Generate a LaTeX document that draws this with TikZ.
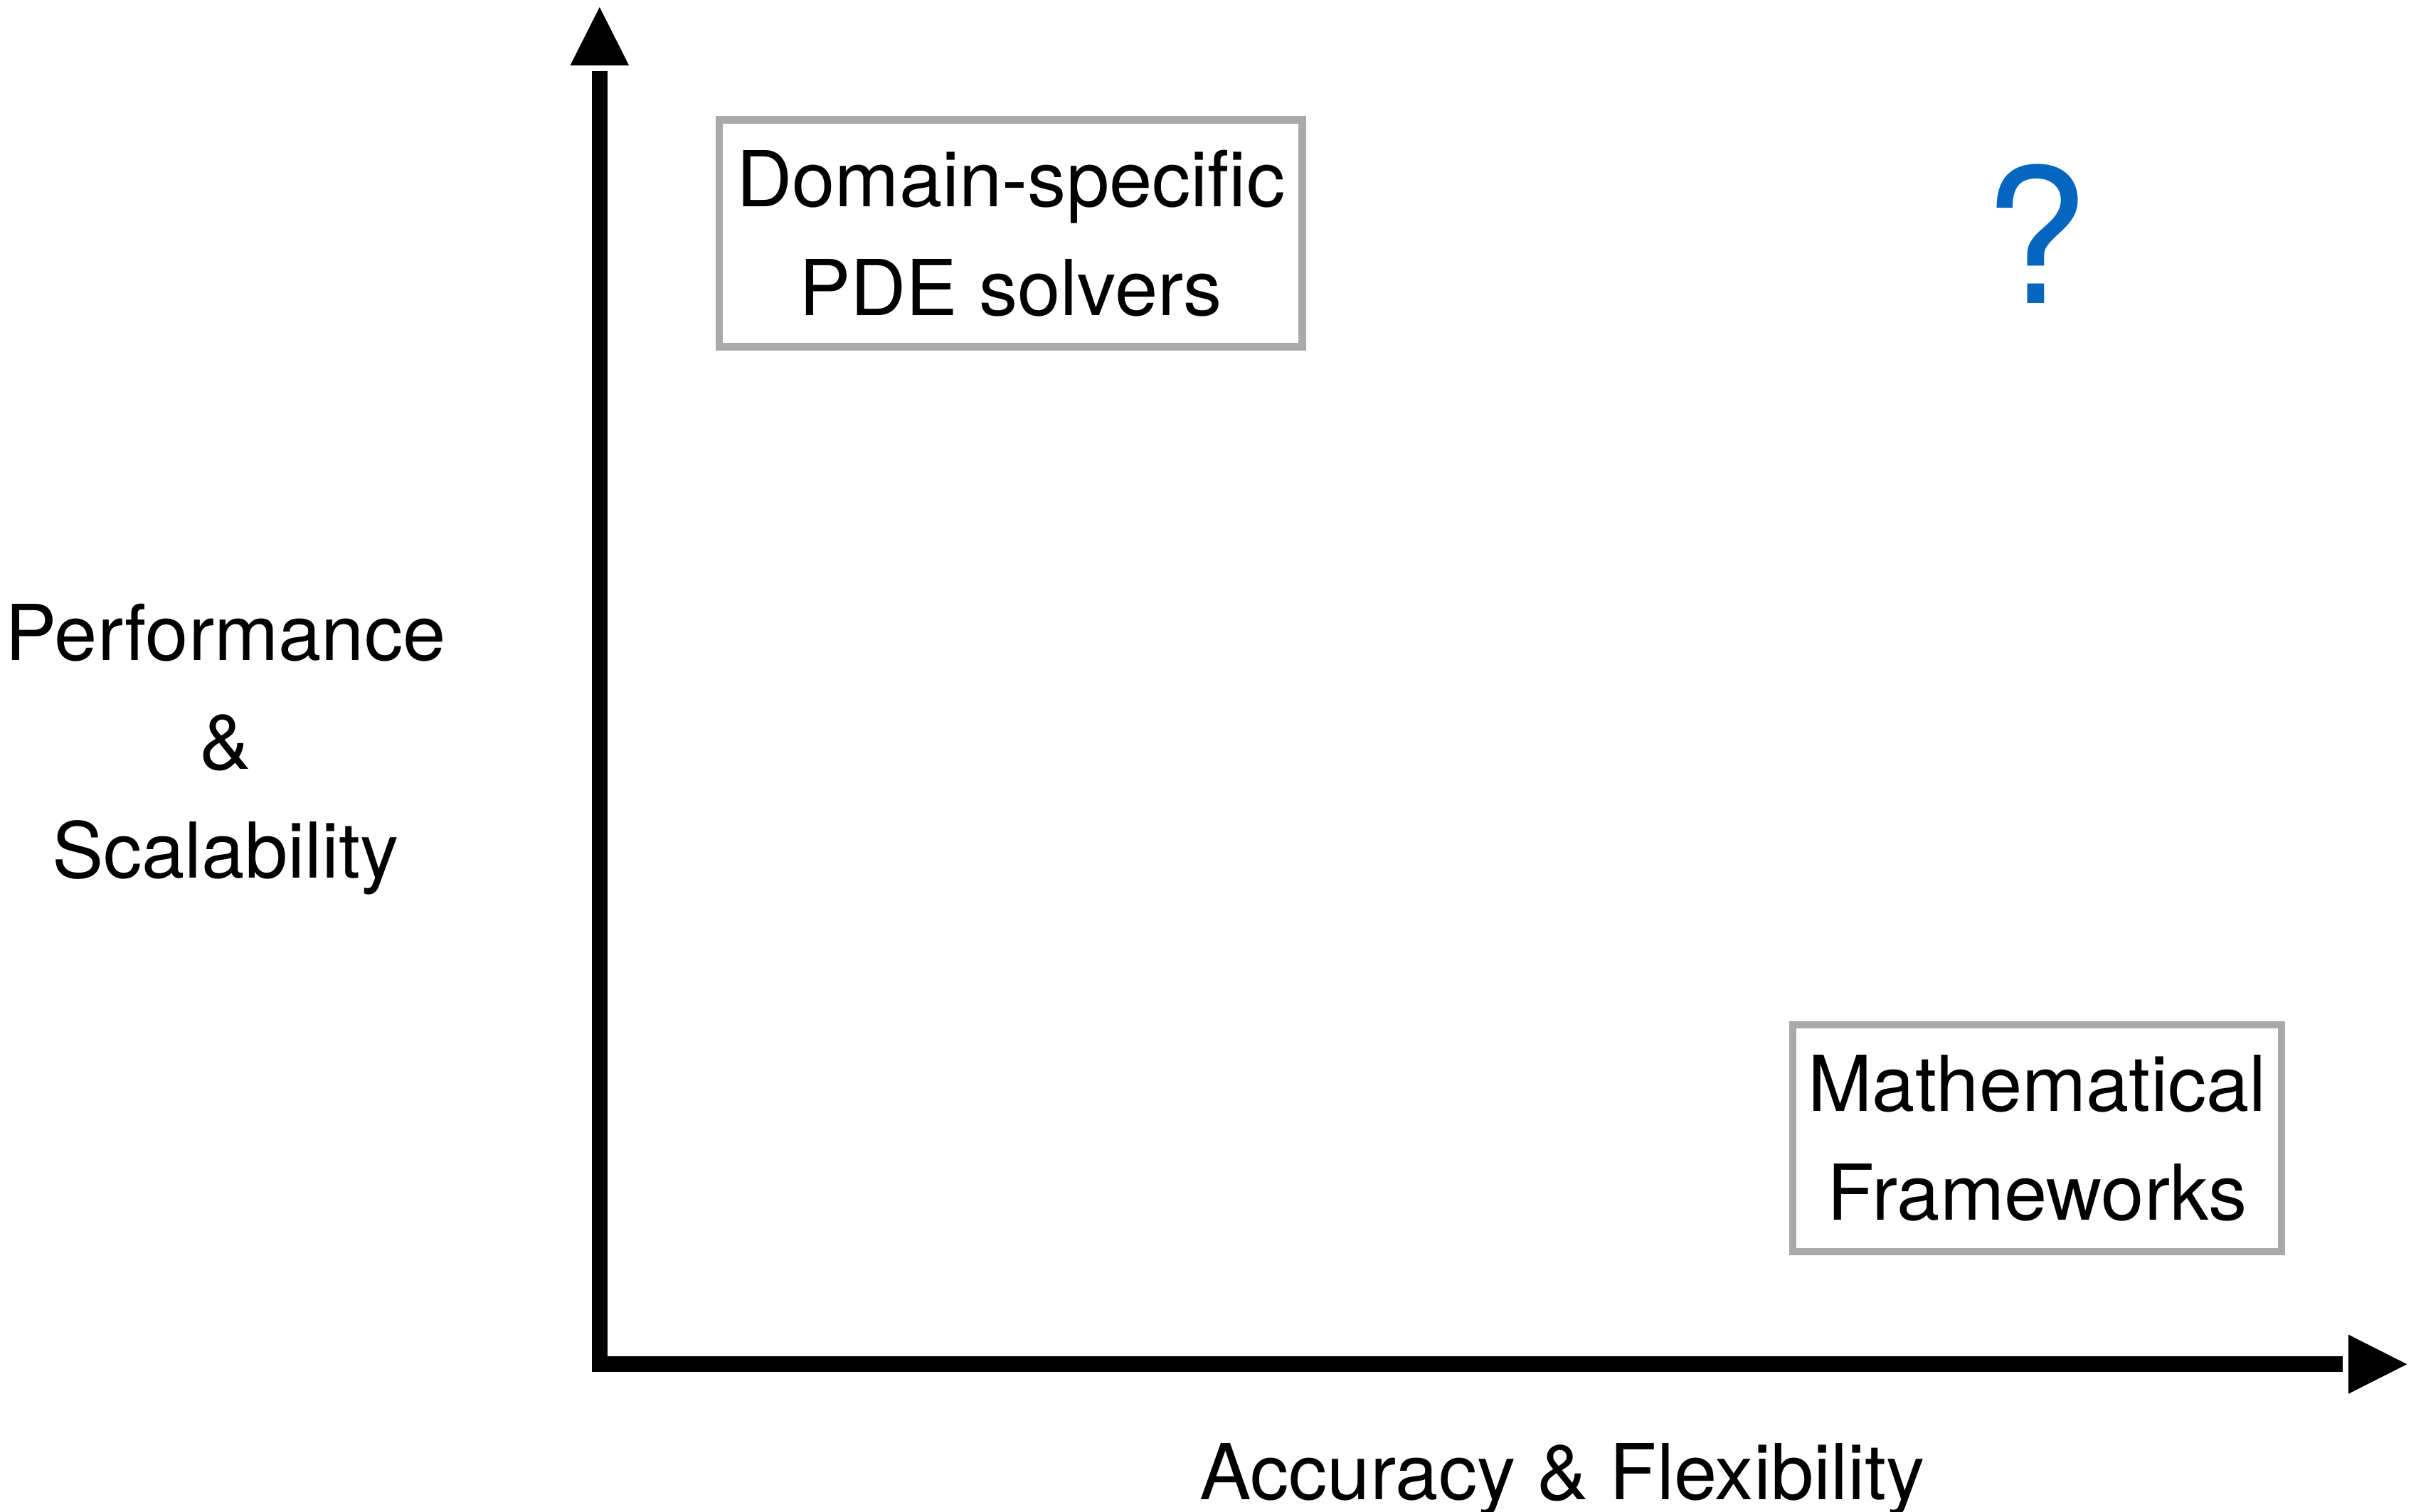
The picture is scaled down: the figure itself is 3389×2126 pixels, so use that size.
\documentclass[tikz,border=0pt]{standalone}
\usepackage{fontspec}
\setmainfont{TeX Gyre Heros}
\definecolor{boxgray}{RGB}{167,170,169}
\definecolor{qblue}{RGB}{5,102,191}
\begin{document}
\begin{tikzpicture}[x=0.25pt,y=-0.25pt,
  lbl/.style={font=\fontsize{27.1pt}{38.25pt}\selectfont, inner sep=0pt, align=center},
  framebox/.style={lbl, draw=boxgray, line width=2.625pt, minimum height=79.75pt},
  axisline/.style={line width=5.4pt, line join=miter},
  tiphead/.style={fill=black}]
\useasboundingbox (0,0) rectangle (3389,2126);

% axes
\coordinate (ytip) at (842.8,10);
\coordinate (origin) at (842.8,1918.2);
\coordinate (xtip) at (3383.3,1918.2);
\coordinate (ybase) at (842.8,100);
\coordinate (xbase) at (3293,1918.2);
\draw[axisline] (ybase) -- (origin) -- (xbase);
\fill[tiphead] (ytip) -- ++(-41.3,82) -- ++(82.6,0) -- cycle;
\fill[tiphead] (xtip) -- ++(-82.3,-41.6) -- ++(0,83.2) -- cycle;

% boxes
\node[framebox, minimum width=204.875pt] (dss) at (1420.75,328) {Domain-specific\\PDE solvers};
\node[framebox, minimum width=171.75pt] (mf) at (2863.5,1600.5) {Mathematical\\Frameworks};

% question mark
\node[inner sep=0pt, anchor=base, text=qblue, font=\fontsize{66pt}{66pt}\selectfont] (q) at (2862,426.7) {?};

% axis labels
\node[lbl] (ylab) at (317,1054) {Performance\\\&\\Scalability};
\node[lbl, anchor=base] (xlab) at (2196,2108.3) {Accuracy \& Flexibility};
\end{tikzpicture}
\end{document}
